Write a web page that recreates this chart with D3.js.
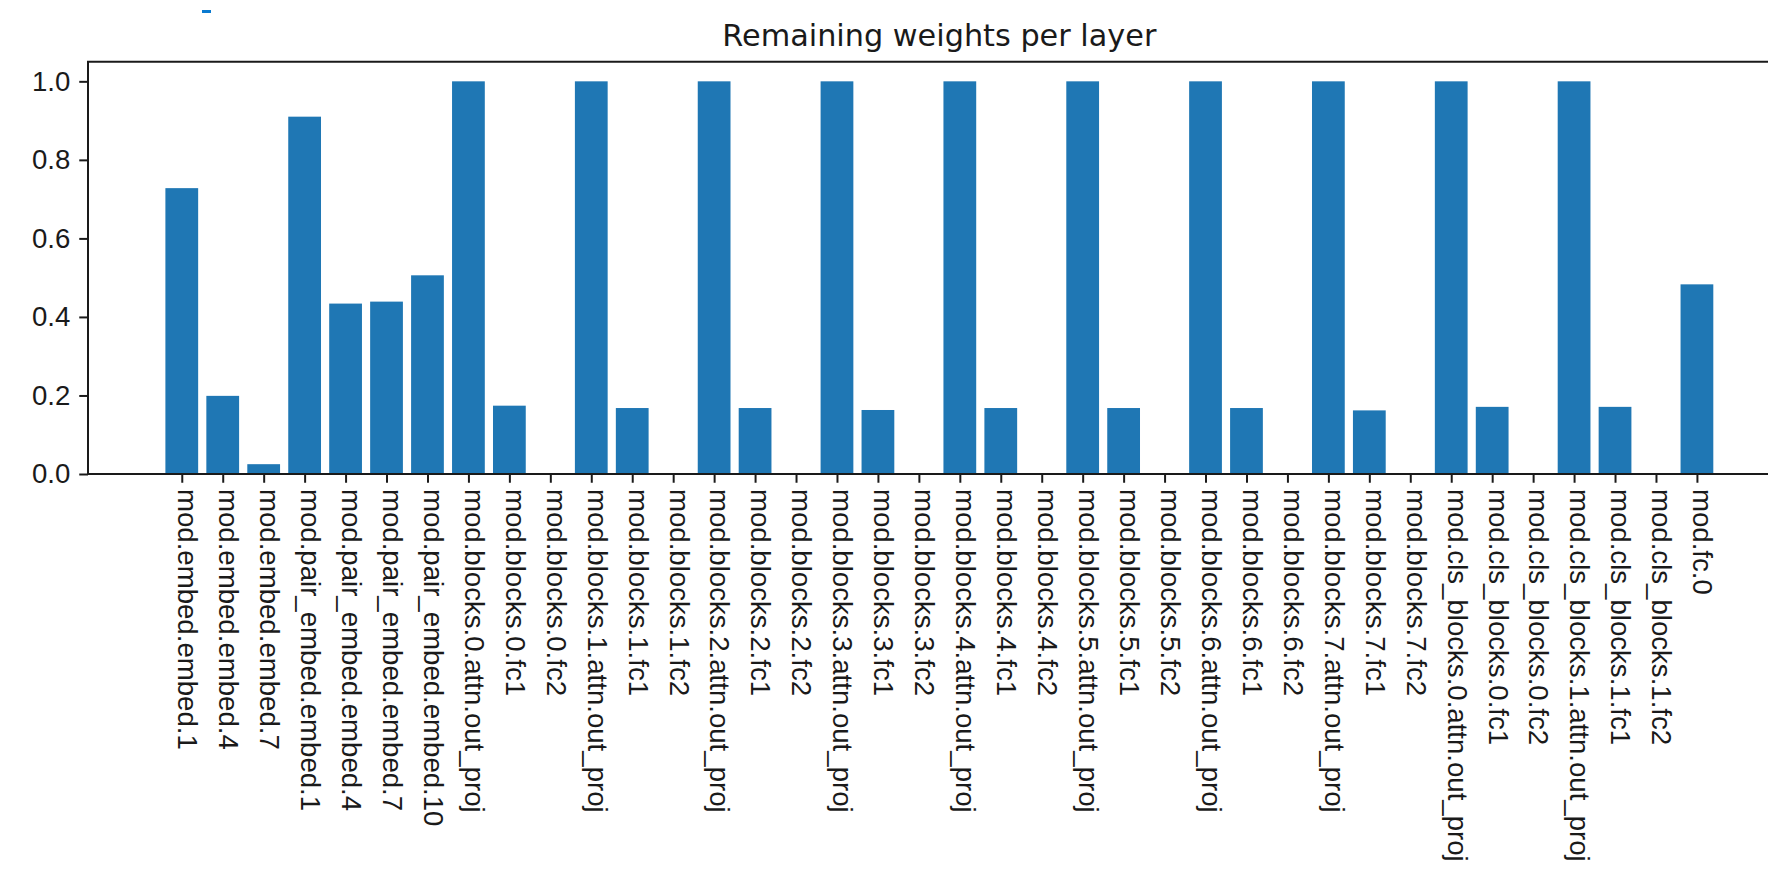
<!DOCTYPE html>
<html>
<head>
<meta charset="utf-8">
<script src="https://cdn.jsdelivr.net/npm/d3@7"></script>
<style>
	body { margin: 0; background: #fff; }
	svg { display: block; font-family: "DejaVu Sans", sans-serif; }
	.axis text { fill: #1a1a1a; font-size: 27.6px; }
	.axis path, .axis line { stroke: #1a1a1a; stroke-width: 2; }
</style>
</head>
<body>
<svg width="1768" height="873"></svg>
<script>
var layers = [
	"mod.embed.embed.1", "mod.embed.embed.4", "mod.embed.embed.7",
	"mod.pair_embed.embed.1", "mod.pair_embed.embed.4", "mod.pair_embed.embed.7", "mod.pair_embed.embed.10",
	"mod.blocks.0.attn.out_proj", "mod.blocks.0.fc1", "mod.blocks.0.fc2",
	"mod.blocks.1.attn.out_proj", "mod.blocks.1.fc1", "mod.blocks.1.fc2",
	"mod.blocks.2.attn.out_proj", "mod.blocks.2.fc1", "mod.blocks.2.fc2",
	"mod.blocks.3.attn.out_proj", "mod.blocks.3.fc1", "mod.blocks.3.fc2",
	"mod.blocks.4.attn.out_proj", "mod.blocks.4.fc1", "mod.blocks.4.fc2",
	"mod.blocks.5.attn.out_proj", "mod.blocks.5.fc1", "mod.blocks.5.fc2",
	"mod.blocks.6.attn.out_proj", "mod.blocks.6.fc1", "mod.blocks.6.fc2",
	"mod.blocks.7.attn.out_proj", "mod.blocks.7.fc1", "mod.blocks.7.fc2",
	"mod.cls_blocks.0.attn.out_proj", "mod.cls_blocks.0.fc1", "mod.cls_blocks.0.fc2",
	"mod.cls_blocks.1.attn.out_proj", "mod.cls_blocks.1.fc1", "mod.cls_blocks.1.fc2",
	"mod.fc.0"
]
var remaining = [
	0.728, 0.199, 0.025,
	0.910, 0.434, 0.439, 0.506,
	1.0, 0.174, 0,
	1.0, 0.168, 0,
	1.0, 0.168, 0,
	1.0, 0.163, 0,
	1.0, 0.168, 0,
	1.0, 0.168, 0,
	1.0, 0.168, 0,
	1.0, 0.162, 0,
	1.0, 0.171, 0,
	1.0, 0.171, 0,
	0.483
]
var yTicks = [0, 0.2, 0.4, 0.6, 0.8, 1.0]
var title = "Remaining weights per layer"

var svg = d3.select("svg")

var plotLeft = 88, plotTop = 61.7, plotBottom = 474, unit = 40.95
var barw = 0.8
// matplotlib style margins: 5% of the bar extent on each side
var span = (layers.length - 1) + barw
var xmin = -barw / 2 - 0.05 * span, xmax = layers.length - 1 + barw / 2 + 0.05 * span

var x = d3.scaleLinear().domain([xmin, xmax]).range([plotLeft, plotLeft + (xmax - xmin) * unit])
var y = d3.scaleLinear().domain([0, 1.05]).range([plotBottom, plotTop])

// little blue dash in the top left corner of the screenshot
svg.append("rect").attr("x", 202).attr("y", 10).attr("width", 9).attr("height", 3).attr("fill", "#0a7ad0")

svg.append("g").selectAll("rect")
	.data(remaining).enter()
	.append("rect")
	.attr("x", (d, i) => x(i - barw / 2))
	.attr("width", x(barw) - x(0))
	.attr("y", (d) => y(d))
	.attr("height", (d) => y(0) - y(d))
	.attr("fill", "#1f77b4")

var yAxis = svg.append("g").attr("class", "axis")
	.attr("transform", "translate(" + plotLeft + ",0)")
	.call(d3.axisLeft(y).tickValues(yTicks).tickFormat(d3.format(".1f")).tickSize(8.75).tickPadding(9).tickSizeOuter(0))
yAxis.select(".domain").remove()

var xAxis = svg.append("g").attr("class", "axis")
	.attr("transform", "translate(0," + plotBottom + ")")
	.call(d3.axisBottom(x).tickValues(d3.range(layers.length)).tickFormat((i) => layers[i]).tickSize(8.75).tickSizeOuter(0))
xAxis.select(".domain").remove()
xAxis.selectAll("text")
	.attr("transform", "rotate(90)")
	.attr("x", 15).attr("y", 0).attr("dy", "0.15em")
	.style("text-anchor", "start")

// spines
var frame = svg.append("g").attr("fill", "none").attr("stroke", "#1a1a1a").attr("stroke-width", 2)
frame.append("line").attr("x1", plotLeft).attr("x2", plotLeft).attr("y1", plotTop).attr("y2", plotBottom)
frame.append("line").attr("x1", plotLeft - 1).attr("x2", x(xmax)).attr("y1", plotTop).attr("y2", plotTop)
frame.append("line").attr("x1", plotLeft - 1).attr("x2", x(xmax)).attr("y1", plotBottom).attr("y2", plotBottom)
frame.append("line").attr("x1", x(xmax)).attr("x2", x(xmax)).attr("y1", plotTop).attr("y2", plotBottom)

svg.append("text")
	.attr("x", (x(xmin) + x(xmax)) / 2).attr("y", 46)
	.attr("text-anchor", "middle")
	.style("font-size", "30.3px").style("fill", "#1a1a1a")
	.text(title)
</script>
</body>
</html>
